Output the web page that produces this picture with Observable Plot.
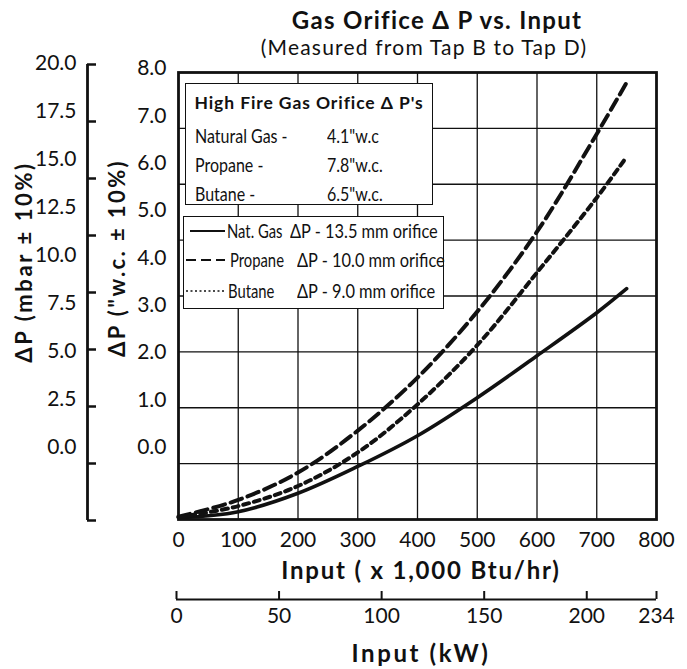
<!DOCTYPE html>
<html><head><meta charset="utf-8">
<script src="https://cdn.jsdelivr.net/npm/d3@7"></script>
<script src="https://cdn.jsdelivr.net/npm/@observablehq/plot@0.6"></script>
<style>
body{margin:0;background:#fff;font-family:Lato,"Open Sans",sans-serif;color:#111}
#wrap{position:relative;width:687px;height:669px;overflow:hidden;background:#fff}
#wrap svg{position:absolute;left:0;top:0}
.t{position:absolute;white-space:nowrap;line-height:1;transform:translate(-50%,-50%)}
.b{font-weight:700}
.box{position:absolute;background:#fff;border:1.5px solid #111;box-sizing:border-box}
.row{position:absolute;white-space:nowrap;font-size:20px;line-height:1;transform-origin:0 50%}
</style></head><body><div id="wrap"></div>
<script>
// ---- data ----
const inputBtu = [0, 100, 200, 300, 400, 500, 600, 700, 750];          // x 1,000 Btu/hr
const natGasDP = [0.03, 0.14, 0.47, 0.95, 1.50, 2.18, 2.93, 3.70, 4.13]; // "w.c.
const propaneDP = [0.05, 0.35, 0.84, 1.59, 2.54, 3.72, 5.15, 6.90, 7.82];
const butaneDP = [0.04, 0.24, 0.60, 1.20, 2.06, 3.12, 4.42, 5.76, 6.49];
const btuTicks = [0, 100, 200, 300, 400, 500, 600, 700, 800];
const btuGrid = [100, 200, 300, 400, 500, 600, 700];
const wcGrid = [1, 2, 3, 4, 5, 6, 7];
const wcTicks = [0, 1, 2, 3, 4, 5, 6, 7, 8];
const mbarTicks = [0, 2.5, 5, 7.5, 10, 12.5, 15, 17.5, 20];
const kwTicks = [0, 50, 100, 150, 200, 234];
const highFire = [["Natural Gas -", "4.1\"w.c"], ["Propane -", "7.8\"w.c."], ["Butane -", "6.5\"w.c."]];
const legendRows = [["Nat. Gas", "ΔP - 13.5 mm orifice"], ["Propane", "ΔP - 10.0 mm orifice"], ["Butane", "ΔP - 9.0 mm orifice"]];

const FONT = "Lato, 'Open Sans', sans-serif";
const wrap = document.getElementById("wrap");
const base = {width: 687, height: 669};

function series(vals, name) { return inputBtu.map((x, i) => ({x, y: vals[i], name})); }

// main chart
const main = Plot.plot({
  ...base,
  marginLeft: 178, marginRight: 31, marginTop: 72, marginBottom: 150,
  style: {fontFamily: FONT, background: "white", color: "#111"},
  x: {domain: [0, 800], axis: null},
  y: {domain: [0, 8], axis: null},
  marks: [
    Plot.ruleX(btuGrid, {x: d => d, stroke: "#111", strokeWidth: 1.3}),
    Plot.ruleY(wcGrid, {y: d => d, stroke: "#111", strokeWidth: 1.3}),
    Plot.line(series(natGasDP, "nat"), {x: "x", y: "y", curve: "catmull-rom", stroke: "#111", strokeWidth: 3.6}),
    Plot.line(series(propaneDP, "pro"), {x: "x", y: "y", curve: "catmull-rom", stroke: "#111", strokeWidth: 4, strokeDasharray: "12,6"}),
    Plot.line(series(butaneDP, "but"), {x: "x", y: "y", curve: "catmull-rom", stroke: "#111", strokeWidth: 4, strokeDasharray: "6,5"}),
    Plot.frame({stroke: "#111", strokeWidth: 2.8}),
    Plot.axisX(btuTicks, {tickSize: 0, tickPadding: 13, fontSize: 21, label: null})
  ]
});
wrap.appendChild(main);

// outer mbar axis line + ticks
const outerLine = Plot.plot({
  ...base,
  marginLeft: 87, marginRight: 591, marginTop: 64, marginBottom: 149,
  style: {background: "transparent"},
  x: {domain: [0, 1], axis: null},
  y: {domain: [0, 20], axis: null},
  marks: [
    Plot.tickY(mbarTicks, {y: d => d, stroke: "#111", strokeWidth: 2.5}),
    Plot.ruleX([0], {x: d => d, stroke: "#111", strokeWidth: 2.8})
  ]
});
wrap.appendChild(outerLine);

// outer mbar labels
const outerLabels = Plot.plot({
  ...base,
  marginLeft: 79, marginRight: 500, marginTop: 60, marginBottom: 150,
  style: {fontFamily: FONT, background: "transparent", color: "#111"},
  y: {domain: [0, 20], range: [447, 63], axis: null},
  marks: [Plot.axisY(mbarTicks, {tickSize: 0, tickPadding: 3, fontSize: 21, tickFormat: d => d.toFixed(1), label: null})]
});
wrap.appendChild(outerLabels);

// inner "w.c. labels
const innerLabels = Plot.plot({
  ...base,
  marginLeft: 169, marginRight: 400, marginTop: 60, marginBottom: 150,
  style: {fontFamily: FONT, background: "transparent", color: "#111"},
  y: {domain: [0, 8], range: [447, 68], axis: null},
  marks: [Plot.axisY(wcTicks, {tickSize: 0, tickPadding: 3, fontSize: 21, tickFormat: d => d.toFixed(1), label: null})]
});
wrap.appendChild(innerLabels);

// kW axis
const kwAxis = Plot.plot({
  ...base,
  marginLeft: 176, marginRight: 31, marginTop: 591, marginBottom: 70,
  style: {fontFamily: FONT, background: "transparent", color: "#111"},
  x: {domain: [0, 234], axis: null},
  y: {domain: [0, 1], axis: null},
  marks: [
    Plot.tickX(kwTicks, {x: d => d, stroke: "#111", strokeWidth: 2}),
    Plot.ruleY([0], {y: d => d, stroke: "#111", strokeWidth: 2.2}),
    Plot.axisX(kwTicks, {tickSize: 0, tickPadding: 9, fontSize: 21, label: null})
  ]
});
wrap.appendChild(kwAxis);

// texts
function txt(s, x, y, size, bold, ls, rot) {
  const d = document.createElement("div");
  d.className = "t" + (bold ? " b" : "");
  d.textContent = s;
  d.style.left = x + "px"; d.style.top = y + "px"; d.style.fontSize = size + "px";
  d.style.letterSpacing = (ls || 0) + "px";
  if (rot) d.style.transform = "translate(-50%,-50%) rotate(-90deg)";
  wrap.appendChild(d);
}
txt("Gas Orifice Δ P vs. Input", 437, 20, 24, true, 1.3);
txt("(Measured from Tap B to Tap D)", 424, 46, 21, false, 1.2);
txt("Input  ( x 1,000 Btu/hr)", 421, 570, 24, true, 1.8);
txt("Input  (kW)", 421, 653, 24, true, 2.6);
txt("ΔP  (mbar ± 10%)", 24, 262, 22, true, 2.6, true);
txt("ΔP  (\"w.c. ± 10%)", 117, 258, 22, true, 2.4, true);

function box(l, t, w, h) {
  const b = document.createElement("div");
  b.className = "box";
  Object.assign(b.style, {left: l + "px", top: t + "px", width: w + "px", height: h + "px"});
  wrap.appendChild(b);
  return b;
}
// rows positioned by baseline (absolute page coords) inside a box
function row(parent, s, x, baseline, opts) {
  const o = opts || {};
  const fs = o.size || 20;
  const r = document.createElement("div");
  r.className = "row";
  r.textContent = s;
  const pl = parseFloat(parent.style.left) + 1.5, pt = parseFloat(parent.style.top) + 1.5;
  Object.assign(r.style, {left: (x - pl) + "px", top: (baseline - 0.887 * fs - pt) + "px", fontSize: fs + "px"});
  if (o.bold) r.style.fontWeight = 700;
  if (o.ls) r.style.letterSpacing = o.ls + "px";
  r.style.transform = "scaleX(" + (o.sx || 0.8) + ")";
  parent.appendChild(r);
}
// legend box 1: high fire values
const b1 = box(185, 83, 248, 122);
row(b1, "High Fire Gas Orifice Δ P's", 195, 110, {size: 17.5, bold: true, sx: 1, ls: 0.9});
const hfBase = [143, 172, 201];
highFire.forEach((r, i) => { row(b1, r[0], 195, hfBase[i]); row(b1, r[1], 327, hfBase[i]); });

// legend box 2: line styles
const b2 = box(183, 216, 261, 93);
const lgBase = [238, 267, 298];
const lgName = [227, 230, 228];
const lgDelta = [290, 297, 297];
const lgDash = [null, "10,5", "2,2.5"];
const lgWidth = [1.8, 1.8, 1.3];
legendRows.forEach((r, i) => {
  const s = document.createElementNS("http://www.w3.org/2000/svg", "svg");
  s.setAttribute("width", 40); s.setAttribute("height", 10);
  Object.assign(s.style, {position: "absolute", left: (186 - 184.5) + "px", top: (lgBase[i] - 7 - 5 - 217.5) + "px"});
  const ln = document.createElementNS("http://www.w3.org/2000/svg", "line");
  ln.setAttribute("x1", i === 0 ? 4 : 0); ln.setAttribute("x2", 39); ln.setAttribute("y1", 5); ln.setAttribute("y2", 5);
  ln.setAttribute("stroke", "#111"); ln.setAttribute("stroke-width", lgWidth[i]);
  if (lgDash[i]) ln.setAttribute("stroke-dasharray", lgDash[i]);
  s.appendChild(ln); b2.appendChild(s);
  row(b2, r[0], lgName[i], lgBase[i], {sx: 0.74});
  row(b2, r[1], lgDelta[i], lgBase[i], {sx: 0.82});
});
</script></body></html>
